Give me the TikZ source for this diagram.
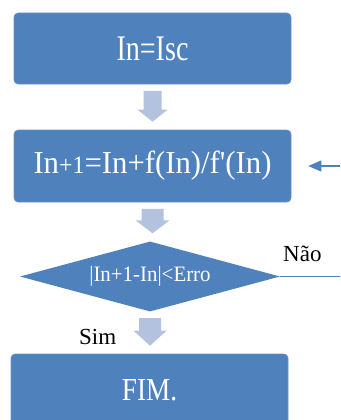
\documentclass[tikz,border=0pt]{standalone}
\usepackage{fontspec}
\setmainfont{Liberation Serif}
\usetikzlibrary{arrows.meta,shapes.geometric,calc}
\definecolor{boxblue}{RGB}{79,129,189}
\definecolor{arrowfill}{RGB}{178,194,223}
\definecolor{lineblue}{RGB}{79,129,189}
\tikzset{
  stepbox/.style={rectangle, rounded corners=4pt, fill=boxblue, draw=boxblue!85!white,
    line width=0.6pt, minimum width=277pt, minimum height=71pt, inner sep=0pt,
    text=white, font=\fontsize{32}{36}\selectfont},
  decbox/.style={diamond, aspect=3.7, fill=boxblue, draw=none, minimum width=260pt,
    minimum height=70pt, inner sep=0pt, text=white, font=\fontsize{22}{24}\selectfont},
  lbl/.style={inner sep=0pt, anchor=base west, text=black, font=\fontsize{23}{25}\selectfont},
  flow/.style={draw=lineblue, line width=1.2pt},
}
\newcommand\blockarrow[5]{%
  \fill[arrowfill] let \p1=#1, \p2=#2 in
    (\x1-#3pt,\y1-6.5pt) -- (\x1+#3pt,\y1-6.5pt) -- (\x1+#3pt,\y2+8pt+#5pt)
    -- (\x1+#4pt,\y2+8pt+#5pt) -- (\x1,\y2+8pt) -- (\x1-#4pt,\y2+8pt+#5pt)
    -- (\x1-#3pt,\y2+8pt+#5pt) -- cycle;}
\begin{document}
\begin{tikzpicture}[x=1pt,y=-1pt]
  \useasboundingbox (0,0) rectangle (340,420);
  \clip (0,0) rectangle (340,420);
  \node[stepbox] (b1) at (152.5,48.5)
    {\scalebox{0.78}[1]{\fontsize{36}{40}\selectfont In=Isc}};
  \node[stepbox, minimum height=72pt] (b2) at (152.5,166)
    {\scalebox{0.96}[1]{In{\fontsize{25}{27}\selectfont+1}=In+f(In)/f\textquotesingle(In)}};
  \node[decbox] (dec) at (150,276.5) {\scalebox{0.95}[1]{|In+1-In|<Erro}};
  \node[stepbox, minimum height=72pt] (b4) at (149.5,390)
    {\scalebox{0.85}[1]{FIM.}};
  \node[lbl] (nao) at (283,261.7) {Não};
  \node[lbl] (sim) at (79,344) {Sim};
  \coordinate (loop) at (350,0);
  \blockarrow{(b1.south)}{(b2.north)}{9}{15}{12}
  \blockarrow{(b2.south)}{(dec.north)}{11}{17}{13}
  \blockarrow{(dec.south)}{(b4.north)}{11}{16.5}{15}
  \draw[flow, -{Triangle[length=13pt,width=11pt]}, shorten >=17pt]
    (dec.east) -- (dec.east -| loop) |- (b2.east);
\end{tikzpicture}
\end{document}
